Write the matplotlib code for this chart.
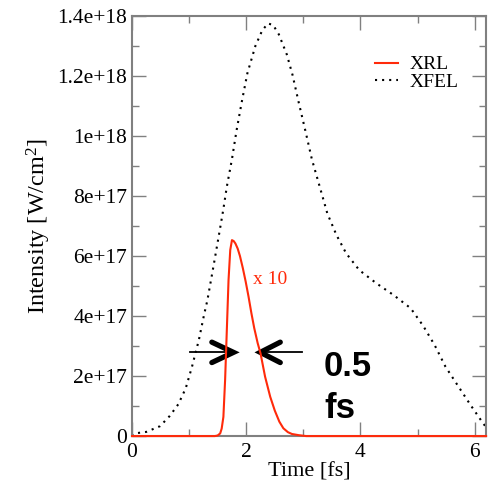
import matplotlib
matplotlib.use("Agg")
import matplotlib.pyplot as plt
import numpy as np

plt.rcParams['font.family'] = ['Liberation Serif', 'DejaVu Serif']
plt.rcParams['mathtext.fontset'] = 'custom'
plt.rcParams['mathtext.rm'] = 'Liberation Serif'
plt.rcParams['mathtext.it'] = 'Liberation Serif:italic'

# XFEL pulse intensity [1e18 W/cm^2]
xfel_t = [0.0, 0.05, 0.25, 0.49, 0.66, 0.81, 0.94, 1.05, 1.17, 1.26, 1.32, 1.43,
          1.54, 1.60, 1.66, 1.75, 1.83, 1.92, 2.02, 2.16, 2.28, 2.38, 2.47, 2.57,
          2.71, 2.81, 2.92, 3.04, 3.15, 3.29, 3.42, 3.58, 3.75, 3.98, 4.28, 4.58,
          4.88, 5.10, 5.30, 5.49, 5.72, 5.93, 6.15, 6.20]
xfel_i = [0.0, 0.009, 0.014, 0.033, 0.067, 0.106, 0.159, 0.231, 0.32, 0.403, 0.453, 0.57,
          0.69, 0.757, 0.831, 0.923, 1.018, 1.112, 1.209, 1.30, 1.352, 1.375, 1.37, 1.339,
          1.272, 1.204, 1.111, 1.014, 0.922, 0.829, 0.742, 0.67, 0.609, 0.553, 0.509, 0.47,
          0.426, 0.367, 0.303, 0.231, 0.164, 0.103, 0.042, 0.03]

# XRL pulse intensity (already x10) [1e17 W/cm^2]
xrl_t = [0.0, 1.45, 1.50, 1.544, 1.57, 1.60, 1.63, 1.66, 1.69, 1.72, 1.75, 1.78,
         1.81, 1.85, 1.89, 1.94, 1.99, 2.04, 2.09, 2.14, 2.20, 2.25, 2.33, 2.42,
         2.50, 2.58, 2.65, 2.73, 2.80, 2.92, 3.05, 6.2]
xrl_i = [0.0, 0.0, 0.02, 0.09, 0.25, 0.64, 1.87, 3.53, 5.2, 6.2, 6.53, 6.5,
         6.42, 6.25, 6.0, 5.6, 5.15, 4.65, 4.1, 3.6, 3.1, 2.76, 1.98, 1.31,
         0.85, 0.48, 0.26, 0.13, 0.07, 0.03, 0.0, 0.0]

yticks = [0, 2e17, 4e17, 6e17, 8e17, 1e18, 1.2e18, 1.4e18]
ytick_labels = ['0', '2e+17', '4e+17', '6e+17', '8e+17', '1e+18', '1.2e+18', '1.4e+18']
xticks = [0, 2, 4, 6]

fig = plt.figure(figsize=(4.89, 4.84), dpi=100)
ax = fig.add_axes([0.27, 0.099, 0.724, 0.868])

ax.plot(xfel_t, np.array(xfel_i) * 1e18, color='black', lw=1.5,
        linestyle=(0, (1, 2.4)), label='XFEL', zorder=2)
ax.plot(xrl_t, np.array(xrl_i) * 1e17, color='#ff2a0a', lw=1.5,
        label='XRL', zorder=3, clip_on=False)

# FWHM arrows
arrow_y = 2.79e17
ax.plot([1.02, 1.70], [arrow_y, arrow_y], color='black', lw=1.3)
ax.plot([2.32, 2.977], [arrow_y, arrow_y], color='black', lw=1.3)
ax.plot([1.398, 1.777, 1.398], [arrow_y + 0.34e17, arrow_y, arrow_y - 0.34e17],
        color='black', lw=3.8, solid_capstyle='round', solid_joinstyle='miter')
ax.plot([2.596, 2.246, 2.596], [arrow_y + 0.34e17, arrow_y, arrow_y - 0.34e17],
        color='black', lw=3.8, solid_capstyle='round', solid_joinstyle='miter')

ax.text(3.36, 1.62e17, '0.5\nfs', family='Liberation Sans', fontweight='bold',
        fontsize=25, ha='left', va='center', linespacing=1.38)
ax.text(2.12, 5.22e17, 'x 10', color='#ff2a0a', fontsize=14, ha='left', va='center')

ax.set_xlim(0, 6.2)
ax.set_ylim(0, 1.4e18)
ax.set_xticks(xticks)
ax.set_xticks([1, 3, 5], minor=True)
ax.set_yticks(yticks)
ax.set_yticklabels(ytick_labels)
ax.set_yticks(np.arange(1e17, 1.4e18, 2e17), minor=True)

for s in ax.spines.values():
    s.set_color('#808080')
    s.set_linewidth(1.5)
ax.tick_params(which='both', direction='in', top=True, right=True,
               color='#808080', width=1.0, labelsize=15.5)
ax.tick_params(which='major', length=10)
ax.tick_params(which='minor', length=5)
ax.tick_params(axis='y', pad=3.5)
ax.tick_params(axis='x', pad=5)

ax.set_xlabel('Time [fs]', fontsize=16, labelpad=0)
ax.set_ylabel('Intensity [W/cm$^2$]', fontsize=17.5, labelpad=3)

handles, labels = ax.get_legend_handles_labels()
ax.legend(handles[::-1], labels[::-1], loc='upper left', bbox_to_anchor=(0.686, 0.905),
          frameon=False, fontsize=14, borderpad=0, borderaxespad=0,
          handlelength=1.2, handletextpad=0.6, labelspacing=0.0)

fig.savefig('out.png', dpi=100)
